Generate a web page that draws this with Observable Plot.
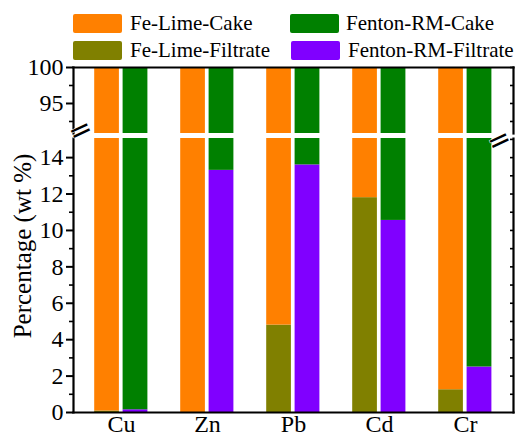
<!DOCTYPE html>
<html>
<head>
<meta charset="utf-8">
<script src="https://cdn.jsdelivr.net/npm/d3@7"></script>
<script src="https://cdn.jsdelivr.net/npm/@observablehq/plot@0.6"></script>
</head>
<body style="margin:0;padding:0;background:white;">
<div id="wrap" style="position:relative;width:525px;height:436px;background:white;font-family:'Liberation Serif', serif;color:black;overflow:hidden;">
  <div id="legend">
    <div id="sw0" style="position:absolute;left:73px;top:14px;width:49px;height:19px;border-radius:2px;"></div>
    <div id="lt0" style="position:absolute;left:130px;top:12px;font-family:'Liberation Serif', serif;font-size:21px;line-height:22px;white-space:nowrap;"></div>
    <div id="sw1" style="position:absolute;left:290px;top:14px;width:49px;height:19px;border-radius:2px;"></div>
    <div id="lt1" style="position:absolute;left:346px;top:12px;font-family:'Liberation Serif', serif;font-size:21px;line-height:22px;white-space:nowrap;"></div>
    <div id="sw2" style="position:absolute;left:73px;top:41px;width:49px;height:19px;border-radius:2px;"></div>
    <div id="lt2" style="position:absolute;left:130px;top:39px;font-family:'Liberation Serif', serif;font-size:21px;line-height:22px;white-space:nowrap;"></div>
    <div id="sw3" style="position:absolute;left:291px;top:41px;width:49px;height:19px;border-radius:2px;"></div>
    <div id="lt3" style="position:absolute;left:348px;top:39px;font-family:'Liberation Serif', serif;font-size:21px;line-height:22px;white-space:nowrap;"></div>
  </div>
  <div id="top" style="position:absolute;left:0;top:57px;"></div>
  <div id="bottom" style="position:absolute;left:0;top:128px;"></div>
  <div id="ylab" style="position:absolute;left:23px;top:246px;transform:translate(-50%,-50%) rotate(-90deg);font-family:'Liberation Serif', serif;font-size:25px;white-space:nowrap;">Percentage (wt %)</div>
</div>
<script>
// ---- data ----
const metals = ["Cu", "Zn", "Pb", "Cd", "Cr"];
const feLimeFiltrate = [0.08, 0, 4.8, 11.8, 1.25];
const fentonFiltrate = [0.15, 13.3, 13.6, 10.55, 2.5];
const total = 100;
const seriesNames = ["Fe-Lime-Cake", "Fenton-RM-Cake", "Fe-Lime-Filtrate", "Fenton-RM-Filtrate"];
const seriesColors = ["#FF8000", "#008000", "#808000", "#8000FF"];
const majorTicksLow = [0, 2, 4, 6, 8, 10, 12, 14];
const minorTicksLow = [1, 3, 5, 7, 9, 11, 13];
const rightTicksLow = [1, 2, 3, 4, 5, 6, 7, 8, 9, 10, 11, 12, 13, 14, 15];
const majorTicksHigh = [95, 100];
const minorTicksHigh = [92.5, 97.5];
const rightTicksHigh = [92.5, 95, 97.5, 100];
const domainLow = [0, 15.05];
const domainHigh = [90.83, 100];

const FONT = "Liberation Serif";
const rows = metals.map((m, i) => ({metal: m, fe: feLimeFiltrate[i], fenton: fentonFiltrate[i]}));
const [cFeCake, cFnCake, cFeFil, cFnFil] = seriesColors;

// ---- legend (static boxes filled from the arrays) ----
seriesNames.forEach((name, i) => {
  document.getElementById("sw" + i).style.background = seriesColors[i];
  document.getElementById("lt" + i).textContent = name;
});

function barMarks() {
  const feIns = {insetLeft: 16.2, insetRight: 45.1};
  const fnIns = {insetLeft: 44.6, insetRight: 16.6};
  return [
    Plot.barY(rows, {x: "metal", y1: 0, y2: "fe", fill: cFeFil, clip: true, ...feIns}),
    Plot.barY(rows, {x: "metal", y1: "fe", y2: total, fill: cFeCake, clip: true, ...feIns}),
    Plot.barY(rows, {x: "metal", y1: 0, y2: "fenton", fill: cFnFil, clip: true, ...fnIns}),
    Plot.barY(rows, {x: "metal", y1: "fenton", y2: total, fill: cFnCake, clip: true, ...fnIns})
  ];
}

const common = {
  width: 525,
  marginLeft: 73,
  marginRight: 12,
  style: "font-family:'Liberation Serif', serif;font-size:23px;color:black;background:transparent;overflow:visible;",
  x: {domain: metals, paddingInner: 0, paddingOuter: 0.03}
};

const breakMark = (anchor) => Plot.text(["="], {
  frameAnchor: anchor, text: d => d, dy: 10, rotate: -25,
  fontSize: 28, fontFamily: "DejaVu Sans", fill: "black", stroke: "white", strokeWidth: 1, paintOrder: "stroke"
});

const yAxisMajor = (ticks) => Plot.axisY({ticks, tickSize: 7, tickPadding: 3, strokeWidth: 2, label: null, fontSize: 24, fontFamily: FONT});

const topPlot = Plot.plot({
  ...common,
  height: 80,
  marginTop: 10,
  marginBottom: 4,
  y: {domain: domainHigh},
  marks: [
    ...barMarks(),
    Plot.axisX({ticks: [], tickSize: 0, label: null, text: null}),
    yAxisMajor(majorTicksHigh),
    Plot.axisY({ticks: minorTicksHigh, tickSize: 4, strokeWidth: 1.6, text: null, label: null}),
    Plot.axisY({anchor: "right", ticks: rightTicksHigh, tickSize: 4, dx: -4, strokeWidth: 1.6, text: null, label: null}),
    Plot.frame({anchor: "left", strokeWidth: 2.2}),
    Plot.frame({anchor: "right", strokeWidth: 2.2}),
    Plot.frame({anchor: "top", strokeWidth: 2.2}),
    breakMark("bottom-left"),
    breakMark("bottom-right")
  ]
});
document.getElementById("top").appendChild(topPlot);

const bottomPlot = Plot.plot({
  ...common,
  height: 308,
  marginTop: 10,
  marginBottom: 24,
  y: {domain: domainLow},
  marks: [
    ...barMarks(),
    Plot.axisX({tickSize: 0, tickPadding: 2, label: null, fontSize: 24, fontFamily: FONT}),
    yAxisMajor(majorTicksLow),
    Plot.axisY({ticks: minorTicksLow, tickSize: 4, strokeWidth: 1.6, text: null, label: null}),
    Plot.axisY({anchor: "right", ticks: rightTicksLow, tickSize: 4, dx: -4, strokeWidth: 1.6, text: null, label: null}),
    Plot.frame({anchor: "left", strokeWidth: 2.2}),
    Plot.frame({anchor: "right", strokeWidth: 2.2}),
    Plot.frame({anchor: "bottom", strokeWidth: 2.2})
  ]
});
document.getElementById("bottom").appendChild(bottomPlot);
// keep the top panel (with its break marks) above the lower panel
document.getElementById("top").style.zIndex = 2;
</script>
</body>
</html>
